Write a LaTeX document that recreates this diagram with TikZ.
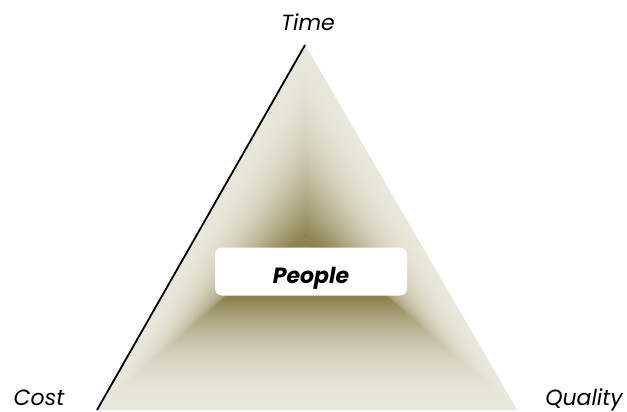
\documentclass[tikz,border=0pt]{standalone}
\usepackage{fontspec}
\setmainfont{Poppins}
\usetikzlibrary{calc}
\definecolor{darkol}{RGB}{140,130,78}
\definecolor{lightol}{RGB}{233,231,219}
\begin{document}
\begin{tikzpicture}[x=1pt,y=-1pt,
  lbl/.style={font=\fontsize{22}{26}\selectfont\itshape, inner sep=0pt, anchor=base},
  peoplebox/.style={fill=white, rounded corners=7pt, minimum width=192pt, minimum height=48pt, inner sep=0pt},
  peopletext/.style={font=\fontsize{22}{26}\selectfont\bfseries\itshape, inner sep=0pt, anchor=base}]
\useasboundingbox (0,0) rectangle (627,412);
% outer triangle
\coordinate (A) at (305,45);
\coordinate (L) at (97,410);
\coordinate (R) at (517,410);
% inner (focus) triangle
\coordinate (Ai) at (306,238);
\coordinate (Li) at (224,298);
\coordinate (Ri) at (389,298);
\fill[lightol] (A) -- (L) -- (R) -- cycle;
\foreach \pa/\qa in {L/R, A/L, R/A}{
  \foreach \i in {0,...,99}{
    \pgfmathsetmacro{\tA}{\i/100}
    \pgfmathsetmacro{\tB}{min(1,(\i+1.6)/100)}
    \pgfmathsetmacro{\pc}{100*((\i+0.5)/100)^2.1}
    \fill[darkol!\pc!lightol]
      ($(\pa)!\tA!(\pa i)$) -- ($(\qa)!\tA!(\qa i)$) -- ($(\qa)!\tB!(\qa i)$) -- ($(\pa)!\tB!(\pa i)$) -- cycle;
  }
}
\fill[darkol] (Ai) -- (Li) -- (Ri) -- cycle;
\draw[black, line width=1.8pt] (A) -- (L);
\node[peoplebox] (box) at (311,271.5) {};
\node[peopletext] (people) at (311,283) {People};
\node[lbl] (time) at (308,31) {Time};
\node[lbl] (cost) at (39,405) {Cost};
\node[lbl] (quality) at (584,405) {Quality};
\end{tikzpicture}
\end{document}
